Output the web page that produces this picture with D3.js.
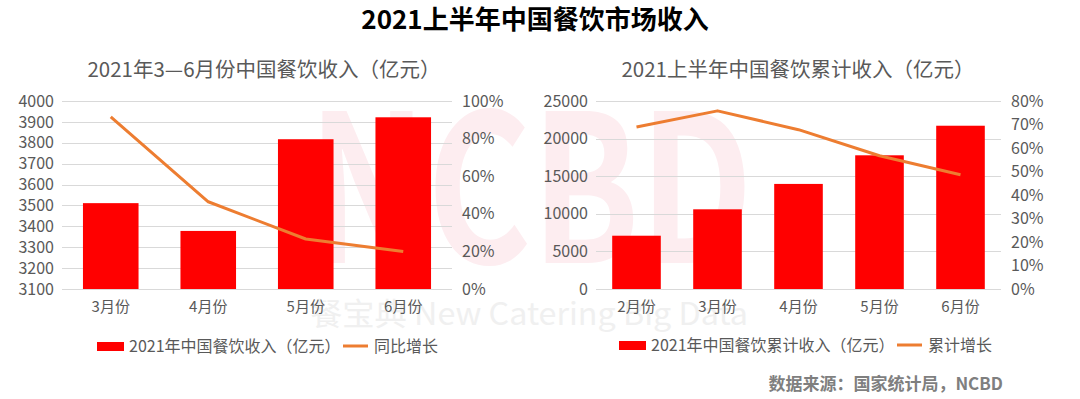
<!DOCTYPE html>
<html>
<head>
<meta charset="utf-8">
<script src="https://cdn.jsdelivr.net/npm/d3@7"></script>
<style>
  body { margin: 0; background: #fff; }
  svg text { font-family: "Noto Sans CJK SC", "Noto Sans", sans-serif; }
</style>
</head>
<body>
<div id="chart"></div>
<script>
// left chart: monthly revenue (100 million yuan) and YoY growth
var monthsA = ["3月份", "4月份", "5月份", "6月份"];
var revenueA = [3511, 3378, 3817, 3922];
var growthA = [0.916, 0.464, 0.266, 0.200];
var yTicksA = d3.range(3100, 4001, 100);
var pTicksA = [0, 0.2, 0.4, 0.6, 0.8, 1.0];

// right chart: cumulative revenue and cumulative growth
var monthsB = ["2月份", "3月份", "4月份", "5月份", "6月份"];
var revenueB = [7086, 10597, 13973, 17779, 21712];
var growthB = [0.689, 0.758, 0.678, 0.567, 0.486];
var yTicksB = [0, 5000, 10000, 15000, 20000, 25000];
var pTicksB = [0, 0.1, 0.2, 0.3, 0.4, 0.5, 0.6, 0.7, 0.8];

var W = 1080, H = 399;
var gray = "#595959";

var svg = d3.select("#chart").append("svg")
    .attr("width", W)
    .attr("height", H);

// main title
svg.append("text")
   .attr("x", 535).attr("y", 29)
   .attr("text-anchor", "middle")
   .attr("font-size", 26).attr("font-weight", "bold")
   .attr("fill", "#000")
   .text("2021上半年中国餐饮市场收入");

// watermark, drawn first so gridlines and bars sit on top
var wm = svg.append("g");
wm.append("text")
  .attr("x", 308).attr("y", 263)
  .attr("textLength", 445).attr("lengthAdjust", "spacingAndGlyphs")
  .attr("font-size", 205).attr("font-weight", "bold")
  .attr("font-family", "\"DejaVu Sans\", sans-serif")
  .attr("fill", "#fdedf0")
  .text("NCBD");
wm.append("text")
  .attr("x", 310).attr("y", 325)
  .attr("textLength", 438).attr("lengthAdjust", "spacingAndGlyphs")
  .attr("font-size", 31)
  .attr("fill", "#f0f0f0")
  .text("餐宝典 New Catering Big Data");

function drawChart(opt) {
    var x = d3.scaleBand()
              .domain(opt.cats)
              .range([opt.x0, opt.x1])
              .paddingInner(opt.pad)
              .paddingOuter(opt.pad / 2);
    var y = d3.scaleLinear().domain(opt.yDomain).range([289, 101]);
    var yp = d3.scaleLinear().domain(opt.pDomain).range([289, 101]);

    var g = svg.append("g");

    // subtitle
    g.append("text")
     .attr("x", opt.titleX).attr("y", 77)
     .attr("text-anchor", "middle")
     .attr("font-size", 20.5)
     .attr("fill", gray)
     .text(opt.title);

    // gridlines
    g.selectAll(".grid")
     .data(opt.yTicks)
     .enter().append("line")
     .attr("x1", opt.x0).attr("x2", opt.x1)
     .attr("y1", function(d) { return Math.round(y(d)) + 0.5; })
     .attr("y2", function(d) { return Math.round(y(d)) + 0.5; })
     .attr("stroke", "#d9d9d9");

    // left axis
    var la = g.append("g")
              .attr("transform", "translate(" + (opt.x0 - 8) + ",0)")
              .call(d3.axisLeft(y).tickValues(opt.yTicks).tickSize(0).tickPadding(0)
                      .tickFormat(d3.format("d")));
    la.select(".domain").remove();
    la.selectAll("text").attr("font-size", 16).attr("fill", gray)
      .attr("font-family", "\"Noto Sans CJK SC\", sans-serif");

    // right axis
    var ra = g.append("g")
              .attr("transform", "translate(" + (opt.x1 + 10) + ",0)")
              .call(d3.axisRight(yp).tickValues(opt.pTicks).tickSize(0).tickPadding(0)
                      .tickFormat(d3.format(".0%")));
    ra.select(".domain").remove();
    ra.selectAll("text").attr("font-size", 16).attr("fill", gray)
      .attr("font-family", "\"Noto Sans CJK SC\", sans-serif");

    // bottom axis labels
    var ba = g.append("g")
              .attr("transform", "translate(0,301)")
              .call(d3.axisBottom(x).tickSize(0).tickPadding(0));
    ba.select(".domain").remove();
    ba.selectAll("text").attr("font-size", 15).attr("fill", gray)
      .attr("font-family", "\"Noto Sans CJK SC\", sans-serif");

    // bars
    g.selectAll(".bar")
     .data(opt.values)
     .enter().append("rect")
     .attr("x", function(d, i) { return x(opt.cats[i]); })
     .attr("y", function(d) { return y(d); })
     .attr("width", x.bandwidth())
     .attr("height", function(d) { return y(opt.yDomain[0]) - y(d); })
     .attr("fill", "#ff0000");

    // growth line
    var line = d3.line()
                 .x(function(d, i) { return x(opt.cats[i]) + x.bandwidth() / 2; })
                 .y(function(d) { return yp(d); });
    g.append("path")
     .datum(opt.growth)
     .attr("d", line)
     .attr("fill", "none")
     .attr("stroke", "#ed7d31")
     .attr("stroke-width", 3)
     .attr("stroke-linejoin", "round");

    // legend
    g.append("rect")
     .attr("x", opt.legX).attr("y", opt.legY - 4)
     .attr("width", 27).attr("height", 9)
     .attr("fill", "#ff0000");
    g.append("text")
     .attr("x", opt.legX + 32).attr("y", opt.legY + 6)
     .attr("font-size", 16).attr("fill", gray)
     .text(opt.barName);
    g.append("line")
     .attr("x1", opt.lineX).attr("x2", opt.lineX + 25)
     .attr("y1", opt.legY).attr("y2", opt.legY)
     .attr("stroke", "#ed7d31").attr("stroke-width", 3);
    g.append("text")
     .attr("x", opt.lineX + 31).attr("y", opt.legY + 6)
     .attr("font-size", 16).attr("fill", gray)
     .text(opt.lineName);
}

drawChart({
    cats: monthsA, values: revenueA, growth: growthA,
    x0: 62, x1: 452, pad: 0.43,
    yDomain: [3100, 4000], pDomain: [0, 1],
    yTicks: yTicksA, pTicks: pTicksA,
    title: "2021年3—6月份中国餐饮收入（亿元）", titleX: 264,
    legX: 97, legY: 346, lineX: 343,
    barName: "2021年中国餐饮收入（亿元）", lineName: "同比增长"
});

drawChart({
    cats: monthsB, values: revenueB, growth: growthB,
    x0: 596, x1: 1001, pad: 0.4,
    yDomain: [0, 25000], pDomain: [0, 0.8],
    yTicks: yTicksB, pTicks: pTicksB,
    title: "2021上半年中国餐饮累计收入（亿元）", titleX: 798,
    legX: 619, legY: 345, lineX: 897,
    barName: "2021年中国餐饮累计收入（亿元）", lineName: "累计增长"
});

// source note
svg.append("text")
   .attr("x", 1003).attr("y", 390)
   .attr("text-anchor", "end")
   .attr("font-size", 17).attr("font-weight", "bold")
   .attr("fill", "#7f7f7f")
   .text("数据来源：国家统计局，NCBD");
</script>
</body>
</html>
